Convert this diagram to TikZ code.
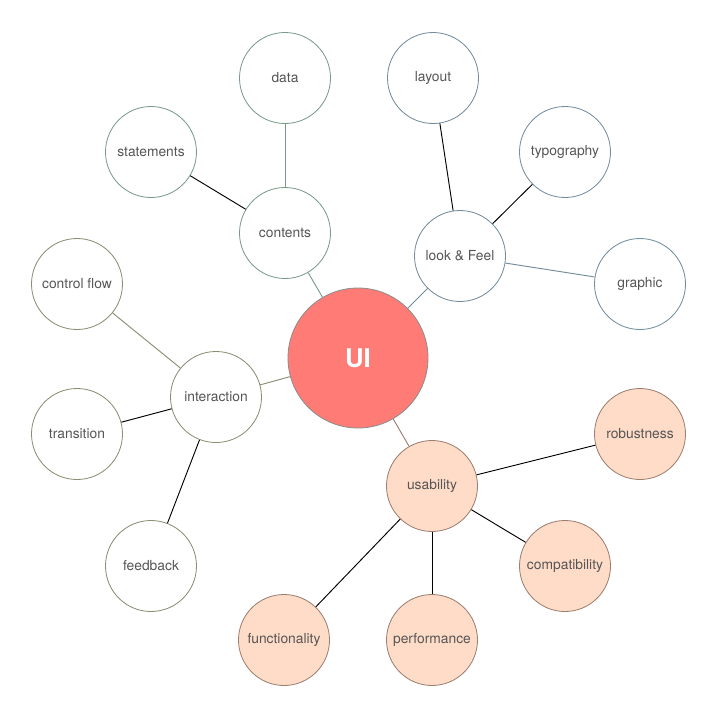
\documentclass[tikz,border=0pt]{standalone}
\usepackage{fontspec}
\setmainfont{TeX Gyre Heros}
\usepackage{xcolor}
\usepackage{tikz}
\usetikzlibrary{positioning}
\definecolor{uired}{RGB}{255,123,118}
\definecolor{uiedge}{RGB}{140,140,140}
\definecolor{contgreen}{RGB}{122,155,138}
\definecolor{lookblue}{RGB}{115,140,156}
\definecolor{interolive}{RGB}{140,140,115}
\definecolor{usebrown}{RGB}{155,126,112}
\definecolor{usefill}{RGB}{255,220,200}
\definecolor{txtgray}{RGB}{85,85,85}

\begin{document}
\begin{tikzpicture}[x=0.03cm,y=-0.03cm,every node/.style={font=\fontsize{11.8}{14}\selectfont,text=txtgray},
    bubble/.style={draw,circle,line width=0.7pt,minimum size=2.73cm,inner sep=0pt},
    contbox/.style={bubble,draw=contgreen,fill=white},
    lookbox/.style={bubble,draw=lookblue,fill=white},
    interbox/.style={bubble,draw=interolive,fill=white},
    usebox/.style={bubble,draw=usebrown,fill=usefill}]
    \useasboundingbox (0,0) rectangle (716,716);
    \node[draw=uiedge,fill=uired,circle,line width=0.7pt,minimum size=4.2cm,text=white,font=\fontsize{22}{24}\selectfont\bfseries] (ui) at (358,358) {UI};
    % contents
    \node[contbox] (contents) at (285,233) {contents};
    \node[contbox] (data) at (285,78) {data};
    \node[contbox] (statements) at (151,152) {statements};
    % look and feel
    \node[lookbox] (look) at (460,256) {look \& Feel};
    \node[lookbox] (layout) at (433,78) {layout};
    \node[lookbox] (typo) at (565,152) {typography};
    \node[lookbox] (graphic) at (640,284) {graphic};
    % interaction
    \node[interbox] (inter) at (216,397) {interaction};
    \node[interbox] (control) at (77,284) {control flow};
    \node[interbox] (trans) at (77,434) {transition};
    \node[interbox] (feedback) at (151,566) {feedback};
    % usability
    \node[usebox] (usab) at (432,486) {usability};
    \node[usebox] (robust) at (640,434) {robustness};
    \node[usebox] (compat) at (565,566) {compatibility};
    \node[usebox] (perf) at (432,640) {performance};
    \node[usebox] (func) at (284,640) {functionality};
    \draw[contgreen,thick] (ui) -- (contents);
    \draw[contgreen,thick] (contents) -- (data);
    \draw[thick] (contents) -- (statements);
    \draw[lookblue,thick] (ui) -- (look);
    \draw[thick] (look) -- (layout);
    \draw[thick] (look) -- (typo);
    \draw[lookblue,thick] (look) -- (graphic);
    \draw[interolive,thick] (ui) -- (inter);
    \draw[interolive,thick] (inter) -- (control);
    \draw[thick] (inter) -- (trans);
    \draw[thick] (inter) -- (feedback);
    \draw[usebrown,thick] (ui) -- (usab);
    \draw[thick] (usab) -- (robust);
    \draw[thick] (usab) -- (compat);
    \draw[thick] (usab) -- (perf);
    \draw[thick] (usab) -- (func);
\end{tikzpicture}
\end{document}
